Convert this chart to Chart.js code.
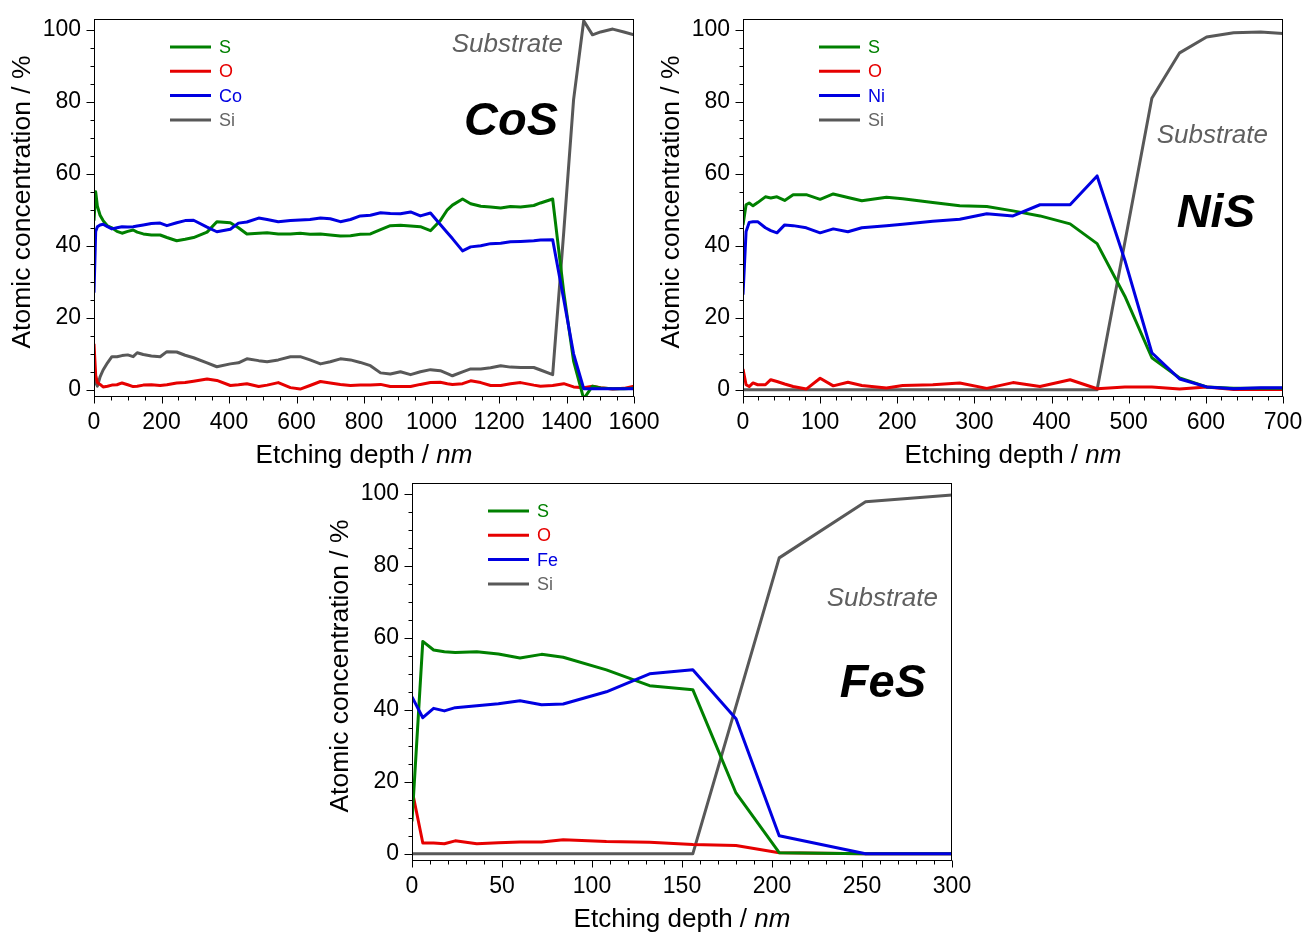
<!DOCTYPE html>
<html>
<head>
<meta charset="utf-8">
<script src="https://cdn.jsdelivr.net/npm/chart.js@4.4.1/dist/chart.umd.min.js"></script>
<style>
body{margin:0;width:1304px;height:932px;overflow:hidden;background:#fff;position:relative;}
.panel{position:absolute;}
canvas{display:block;}
</style>
</head>
<body>
<div class="panel" id="pcos"><canvas id="cos" width="664" height="470"></canvas></div>
<div class="panel" id="pnis"><canvas id="nis" width="664" height="470"></canvas></div>
<div class="panel" id="pfes"><canvas id="fes" width="664" height="470"></canvas></div>
<script>
// ---- datos ----
var cosDepth = [0,5,10,18,27,40,53,68,83,100,116,128,146,170,196,216,245,270,295,335,364,404,428,453,488,513,546,582,611,640,671,700,730,760,789,819,849,878,908,938,967,997,1026,1047,1062,1092,1116,1146,1175,1205,1234,1264,1303,1323,1359,1392,1421,1451,1477,1501,1537,1570,1600];
var cosS  = [47,55,51,48.5,47,45.5,45,44,43.5,44,44.4,43.8,43.3,43,43,42.3,41.4,41.8,42.3,43.8,46.7,46.4,45,43.3,43.5,43.6,43.3,43.3,43.5,43.2,43.3,43,42.7,42.8,43.2,43.3,44.5,45.6,45.7,45.5,45.3,44.2,47,50,51.3,53,51.7,51,50.8,50.5,50.9,50.8,51.2,51.9,53,27,8,-2.5,1,0.5,0.3,0.3,0.4];
var cosO  = [12.8,4,2,1.5,0.8,1,1.3,1.4,1.9,1.4,0.9,1,1.3,1.4,1.2,1.4,1.9,2,2.4,3,2.6,1.2,1.4,1.7,0.9,1.3,2,0.6,0.2,1.2,2.3,1.9,1.5,1.2,1.3,1.3,1.5,0.9,0.9,0.9,1.5,2,2.1,1.7,1.5,1.7,2.5,2,1.2,1.2,1.7,2,1.3,1,1.2,1.7,0.8,0.6,1,0.6,0.2,0.4,1];
var cosCo = [27,44,45.3,45.8,46,45.3,44.7,45,45.3,45.2,45.3,45.5,45.8,46.2,46.3,45.6,46.4,47,47.1,45.2,43.9,44.6,46.3,46.6,47.7,47.3,46.7,47,47.2,47.3,47.7,47.5,46.7,47.3,48.3,48.5,49.2,49,48.9,49.4,48.3,49.1,45.9,43.6,42,38.6,39.7,40,40.6,40.7,41.1,41.2,41.4,41.6,41.7,25,10,0.3,0.3,0.3,0.3,0.3,0.3];
var cosSi = [5,2,1,3.6,5.5,7.5,9.2,9.2,9.5,9.7,9.2,10.3,9.8,9.4,9.2,10.6,10.5,9.6,8.9,7.5,6.4,7.2,7.5,8.6,8.1,7.8,8.3,9.2,9.2,8.3,7.2,7.8,8.6,8.3,7.6,6.7,4.7,4.4,5,4.2,5,5.6,5.3,4.5,3.9,5,5.8,5.8,6.1,6.7,6.3,6.2,6.2,5.5,4.2,44,80.6,102.5,98.6,99.4,100.2,99.4,98.6];

var nisDepth = [0,4,8,13,19,29,36,44,54,65,82,100,117,136,154,186,207,246,281,316,350,385,424,459,495,530,566,601,636,671,700];
var nisS  = [45.8,51.4,51.9,51.1,52,53.6,53.3,53.6,52.6,54.2,54.2,52.9,54.4,53.4,52.5,53.5,53.1,52,51.1,50.9,49.7,48.3,46.1,40.6,26,8.9,3.3,0.8,0.4,0.4,0.4];
var nisO  = [5.8,1.4,0.9,1.9,1.4,1.4,2.8,2.3,1.6,0.9,0.2,3.2,1.1,2.1,1.2,0.5,1.2,1.4,1.9,0.4,2,0.9,2.8,0.3,0.8,0.8,0.2,0.8,0.1,0.1,0.1];
var nisNi = [26.4,44,46.5,46.7,46.7,45,44.2,43.6,45.8,45.6,45,43.6,44.7,43.9,45,45.6,46,46.8,47.4,48.9,48.3,51.4,51.4,59.4,36,10.3,3,0.8,0.3,0.6,0.6];
var nisSi = [0,0,0,0,0,0,0,0,0,0,0,0,0,0,0,0,0,0,0,0,0,0,0,0,41,81,93.6,98,99.2,99.4,99];

var fesDepth = [0,6,12,18,24,36,48,60,72,84,108,132,156,180,204,252,300];
var fesS  = [9,59,56.6,56.1,55.9,56.1,55.5,54.4,55.4,54.6,51.1,46.7,45.6,16.9,0.3,0,0];
var fesO  = [17.8,3,3,2.8,3.6,2.8,3.1,3.3,3.3,3.9,3.4,3.2,2.6,2.3,0.3,0,0];
var fesFe = [43.6,37.8,40.4,39.7,40.6,41.1,41.7,42.5,41.4,41.6,45,50,51.1,37.5,5,0,0];
var fesSi = [0,0,0,0,0,0,0,0,0,0,0,0,0,41,82.2,97.8,99.7];

var cosLabels = ['S','O','Co','Si'];
var nisLabels = ['S','O','Ni','Si'];
var fesLabels = ['S','O','Fe','Si'];

var cosXTicks = [0,200,400,600,800,1000,1200,1400,1600];
var nisXTicks = [0,100,200,300,400,500,600,700];
var fesXTicks = [0,50,100,150,200,250,300];
var yTicks = [0,20,40,60,80,100];

// ---- estilo ----
var FONT = "'Liberation Sans', Arial, sans-serif";
var lineColors = ['rgb(0,128,0)','rgb(230,0,0)','rgb(0,0,225)','rgb(88,88,88)'];
var textColors = ['rgb(0,128,0)','rgb(230,0,0)','rgb(0,0,225)','rgb(100,100,100)'];
var drawOrder = [1,2,0,3]; // azul encima

var AXW = 94, TOPPAD = 19, RIGHTPAD = 30, XAXH = 73;

function placePanel(divId, plotLeft, plotTop){
	var d = document.getElementById(divId);
	d.style.left = (plotLeft - AXW) + 'px';
	d.style.top = (plotTop - TOPPAD) + 'px';
}
placePanel('pcos', 94, 19);
placePanel('pnis', 743, 19);
placePanel('pfes', 412, 483);

function line(ctx, x1, y1, x2, y2){
	ctx.beginPath(); ctx.moveTo(x1, y1); ctx.lineTo(x2, y2); ctx.stroke();
}

// marco, ticks menores, titulos, leyenda y rotulos
var panelPlugin = {
	id:'panel',
	afterDraw:function(chart, args, opts){
		var ctx = chart.ctx, a = chart.chartArea, xs = chart.scales.x, ys = chart.scales.y;
		ctx.save();
		ctx.strokeStyle = '#000';
		ctx.lineWidth = 1;
		var L = Math.round(a.left) + 0.5, R = Math.round(a.right) - 0.5;
		var T = Math.round(a.top) + 0.5, B = Math.round(a.bottom) - 0.5;
		ctx.strokeRect(L, T, R - L, B - T);

		// ticks eje x
		var xmax = xs.max, step = opts.minorX;
		for(var v = 0; v <= xmax + 0.001; v += step){
			var px = Math.round(xs.getPixelForValue(v)) + 0.5;
			var major = Math.abs(v / opts.majorX - Math.round(v / opts.majorX)) < 0.001;
			line(ctx, px, B, px, B + (major ? 7 : 4));
		}
		// ticks eje y
		for(v = 0; v <= 100; v += 5){
			var py = Math.round(ys.getPixelForValue(v)) + 0.5;
			line(ctx, L, py, L - (v % 20 === 0 ? 8 : 4), py);
		}

		// titulo y
		ctx.fillStyle = '#000';
		ctx.save();
		ctx.translate(a.left - 71, (a.top + a.bottom) / 2 - 6);
		ctx.rotate(-Math.PI / 2);
		ctx.font = '26.5px ' + FONT;
		ctx.textAlign = 'center';
		ctx.textBaseline = 'middle';
		ctx.fillText('Atomic concentration / %', 0, 0);
		ctx.restore();

		// titulo x con nm en cursiva
		var t1 = 'Etching depth / ', t2 = 'nm';
		ctx.font = '26px ' + FONT;
		var w1 = ctx.measureText(t1).width;
		ctx.font = 'italic 26px ' + FONT;
		var w2 = ctx.measureText(t2).width;
		var x0 = (a.left + a.right) / 2 - (w1 + w2) / 2, yb = a.bottom + 66;
		ctx.textAlign = 'left';
		ctx.textBaseline = 'alphabetic';
		ctx.font = '26px ' + FONT;
		ctx.fillText(t1, x0, yb);
		ctx.font = 'italic 26px ' + FONT;
		ctx.fillText(t2, x0 + w1, yb);

		// leyenda
		ctx.font = '18px ' + FONT;
		ctx.textBaseline = 'middle';
		chart.data.datasets.forEach(function(ds, i){
			var y = a.top + 28 + 24.3 * i;
			ctx.strokeStyle = ds.borderColor;
			ctx.lineWidth = 3;
			line(ctx, a.left + 76, y, a.left + 117, y);
			ctx.fillStyle = textColors[i];
			ctx.fillText(ds.label, a.left + 125, y + 1);
		});

		// rotulos
		ctx.textAlign = 'right';
		ctx.textBaseline = 'alphabetic';
		ctx.fillStyle = 'rgb(95,95,95)';
		ctx.font = 'italic 26px ' + FONT;
		ctx.fillText('Substrate', a.left + opts.subX, a.top + opts.subY);
		ctx.fillStyle = '#000';
		ctx.font = 'italic bold 47px ' + FONT;
		ctx.fillText(opts.name, a.left + opts.nameX, a.top + opts.nameY);
		ctx.restore();
	}
};

function makeSeries(depth, values){
	return depth.map(function(d, i){ return {x:d, y:values[i]}; });
}

function plain(v){ return String(v); }

function drawPanel(id, depth, series, labels, xTicks, look){
	var datasets = series.map(function(vals, k){
		return {
			label:labels[k], data:makeSeries(depth, vals),
			borderColor:lineColors[k], backgroundColor:lineColors[k],
			borderWidth:3, pointRadius:0, tension:0, fill:false,
			order:drawOrder[k], borderJoinStyle:'round'
		};
	});
	var tickFont = {family:FONT, size:23};
	return new Chart(document.getElementById(id), {
		type:'line',
		data:{datasets:datasets},
		plugins:[panelPlugin],
		options:{
			responsive:false, animation:false, events:[],
			layout:{padding:{top:TOPPAD, right:RIGHTPAD, left:0, bottom:0}},
			plugins:{legend:{display:false}, tooltip:{enabled:false}, panel:look},
			scales:{
				x:{
					type:'linear', min:xTicks[0], max:xTicks[xTicks.length - 1],
					afterFit:function(s){ s.height = XAXH; s.paddingLeft = 0; s.paddingRight = 0; },
					afterBuildTicks:function(s){ s.ticks = xTicks.map(function(v){ return {value:v}; }); },
					grid:{display:false, drawTicks:false}, border:{display:false},
					ticks:{autoSkip:false, maxRotation:0, padding:12, color:'#000', font:tickFont, callback:plain}
				},
				y:{
					type:'linear', min:-2, max:103,
					afterFit:function(s){ s.width = AXW; s.paddingTop = 0; s.paddingBottom = 0; },
					afterBuildTicks:function(s){ s.ticks = yTicks.map(function(v){ return {value:v}; }); },
					grid:{display:false, drawTicks:false}, border:{display:false},
					ticks:{padding:13, color:'#000', font:tickFont, callback:plain}
				}
			}
		}
	});
}

drawPanel('cos', cosDepth, [cosS, cosO, cosCo, cosSi], cosLabels, cosXTicks,
	{name:'CoS', majorX:200, minorX:50, subX:469, subY:33, nameX:464, nameY:116});
drawPanel('nis', nisDepth, [nisS, nisO, nisNi, nisSi], nisLabels, nisXTicks,
	{name:'NiS', majorX:100, minorX:20, subX:525, subY:124, nameX:512, nameY:208});
drawPanel('fes', fesDepth, [fesS, fesO, fesFe, fesSi], fesLabels, fesXTicks,
	{name:'FeS', majorX:50, minorX:10, subX:526, subY:123, nameX:514, nameY:214});
</script>
</body>
</html>
